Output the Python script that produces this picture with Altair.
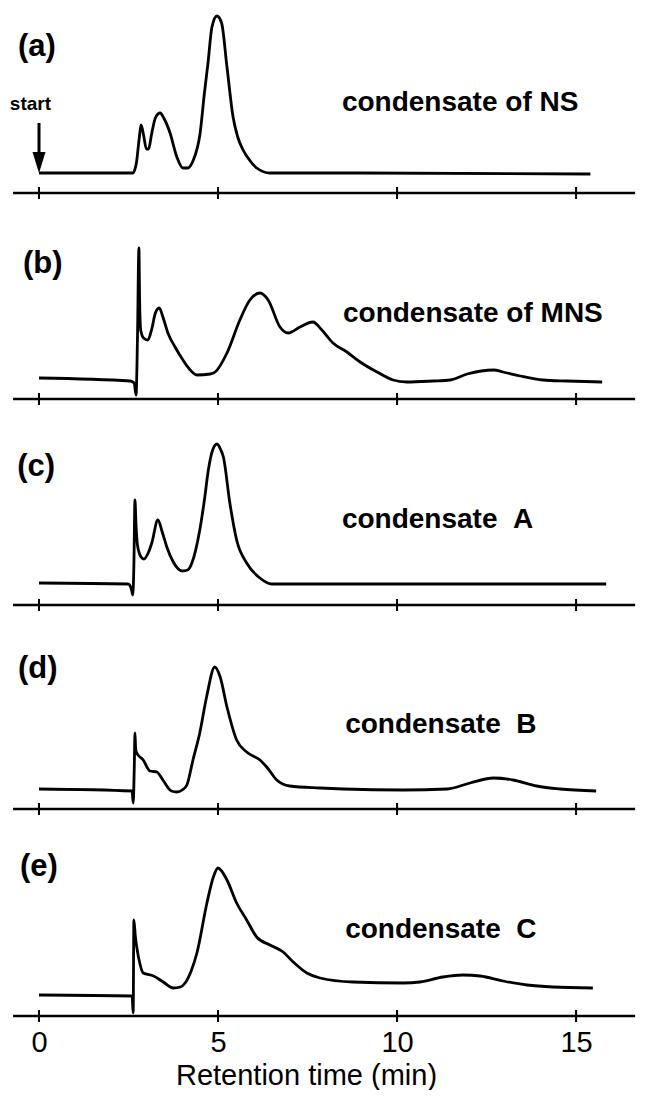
import altair as alt
import pandas as pd

# ---------------- data ----------------
# retention time (min) / detector signal (arbitrary units above the baseline axis)
t_a = [0, 2.62, 2.72, 2.80, 2.85, 2.92, 3.00, 3.06, 3.15, 3.25, 3.38, 3.50, 3.66, 3.85, 4.02,
       4.15, 4.30, 4.50, 4.62, 4.72, 4.83, 4.97, 5.10, 5.25, 5.42, 5.55, 5.70, 5.90, 6.08, 6.45,
       9.0, 15.4]
s_a = [20, 20, 30, 55, 68, 58, 44, 44, 60, 75, 80, 74, 60, 36, 25,
       25, 32, 60, 100, 130, 166, 177, 170, 126, 76, 56, 43, 32, 25, 20,
       20, 19]

t_b = [0, 2.55, 2.66, 2.71, 2.75, 2.79, 2.81, 2.84, 2.92, 3.04, 3.15, 3.25, 3.36, 3.46, 3.60,
       3.80, 4.02, 4.20, 4.41, 4.78, 4.92, 5.25, 5.61, 5.89, 6.17, 6.40, 6.73, 6.96, 7.29, 7.65,
       7.90, 8.21, 8.60, 8.97, 9.44, 9.89, 10.27, 11.0, 11.48, 11.96, 12.7, 12.96, 13.44, 14.08,
       14.75, 15.73]
s_b = [21, 18, 16, 4, 60, 151, 100, 69, 61, 59, 70, 86, 91, 82, 66,
       52, 39, 30, 24, 25, 27, 46, 79, 99, 106, 99, 72, 66, 72, 77,
       69, 56, 47, 37, 27, 19, 17, 18, 19, 25, 29, 27, 23, 19,
       18, 17]

t_c = [0, 2.49, 2.58, 2.62, 2.65, 2.68, 2.71, 2.75, 2.85, 2.93, 3.05, 3.15, 3.32, 3.45, 3.57,
       3.75, 4.00, 4.15, 4.27, 4.49, 4.62, 4.73, 4.85, 4.97, 5.08, 5.15, 5.33, 5.52, 5.80, 6.17,
       6.50, 10.0, 15.84]
s_c = [22, 21, 16, 10, 40, 105, 80, 60, 48, 46, 52, 62, 85, 72, 58,
       43, 34, 35, 42, 75, 105, 135, 155, 161, 155, 148, 102, 65, 42, 27,
       21, 21, 21]

t_d = [0, 2.60, 2.63, 2.66, 2.68, 2.70, 2.73, 2.91, 3.10, 3.29, 3.46, 3.70, 3.85, 4.00, 4.13,
       4.30, 4.49, 4.68, 4.91, 5.06, 5.25, 5.52, 5.80, 6.17, 6.36, 6.64, 7.00, 7.85, 8.5, 10.17,
       11.4, 12.04, 12.7, 13.24, 13.9, 14.55, 15.56]
s_d = [20, 18, 6, 40, 76, 60, 56, 49, 38, 37, 29, 18, 17, 19, 24,
       49, 76, 112, 142, 132, 102, 69, 57, 49, 42, 29, 23, 21, 20, 19,
       20, 26, 31, 29, 23, 20, 18]

t_e = [0, 2.60, 2.63, 2.65, 2.69, 2.73, 2.82, 2.91, 3.20, 3.47, 3.75, 3.95, 4.08, 4.25, 4.41,
       4.69, 4.87, 5.00, 5.10, 5.25, 5.52, 5.80, 6.08, 6.45, 6.82, 7.10, 7.48, 7.85, 8.77, 10.17,
       10.64, 11.28, 11.84, 12.32, 12.96, 13.63, 14.36, 15.47]
s_e = [21, 20, 3, 96, 80, 69, 52, 43, 40, 34, 28, 29, 33, 45, 63,
       113, 139, 148, 145, 136, 113, 96, 79, 71, 64, 54, 43, 38, 34, 33,
       34, 39, 41, 40, 35, 31, 29, 28]

panel_letters = ["(a)", "(b)", "(c)", "(d)", "(e)"]
sample_names = ["condensate of NS", "condensate of MNS", "condensate\u00a0\u00a0A",
                "condensate\u00a0\u00a0B", "condensate\u00a0\u00a0C"]
tick_values = [0, 5, 10, 15]
axis_extent = [-0.726, 16.65]
x_title = "Retention time (min)"

# ---------------- layout / style ----------------
X_DOMAIN = [-0.866, 16.73]
WIDTH = 630
FONT = "Liberation Sans"

# height, y-domain, letter position (t, s), name position (t, s)
panel_layout = [
    (197, [-12, 185], (-0.59, 146), (8.46, 82)),
    (206, [-12, 194], (-0.45, 135), (8.49, 77)),
    (206, [-12, 194], (-0.61, 138), (8.46, 77)),
    (204, [-12, 192], (-0.59, 140), (8.55, 76)),
    (207, [-12, 195], (-0.53, 149), (8.55, 78)),
]

series = [(t_a, s_a), (t_b, s_b), (t_c, s_c), (t_d, s_d), (t_e, s_e)]


def make_panel(i):
    t, s = series[i]
    height, ydom, letter_pos, name_pos = panel_layout[i]
    xs = alt.Scale(domain=X_DOMAIN, nice=False, zero=False)
    ys = alt.Scale(domain=ydom, nice=False, zero=False)
    last = i == len(series) - 1

    if last:
        x_axis = alt.Axis(values=tick_values, domain=False, ticks=False, grid=False,
                          labelFont=FONT, labelFontSize=29, labelColor="black",
                          labelPadding=0, title=x_title, titleFont=FONT,
                          titleFontSize=29, titleFontWeight="normal", titleColor="black",
                          titlePadding=4, titleX=298)
    else:
        x_axis = None

    df = pd.DataFrame({"t": t, "s": s})
    line = alt.Chart(df).mark_line(color="black", strokeWidth=2.8, interpolate="monotone",
                                   strokeJoin="round").encode(
        x=alt.X("t:Q", scale=xs, axis=x_axis, title=x_title),
        y=alt.Y("s:Q", scale=ys, axis=None),
    )

    base_df = pd.DataFrame({"x0": [axis_extent[0]], "x1": [axis_extent[1]], "y": [0]})
    axis_line = alt.Chart(base_df).mark_rule(color="black", strokeWidth=2.5).encode(
        x=alt.X("x0:Q", scale=xs, axis=x_axis, title=x_title),
        x2="x1:Q",
        y=alt.Y("y:Q", scale=ys, axis=None),
    )

    tick_df = pd.DataFrame({"t": tick_values, "y": [0] * len(tick_values)})
    ticks = alt.Chart(tick_df).mark_tick(orient="vertical", size=12, thickness=2,
                                         color="black", opacity=1).encode(
        x=alt.X("t:Q", scale=xs, axis=x_axis, title=x_title),
        y=alt.Y("y:Q", scale=ys, axis=None),
    )

    letter = alt.Chart(pd.DataFrame({"label": [panel_letters[i]]})).mark_text(
        font=FONT, fontSize=31, fontWeight="bold", align="left", baseline="middle",
        color="black").encode(
        x=alt.XDatum(letter_pos[0], scale=xs, axis=x_axis, title=x_title),
        y=alt.YDatum(letter_pos[1], scale=ys, axis=None),
        text="label:N",
    )

    name = alt.Chart(pd.DataFrame({"label": [sample_names[i]]})).mark_text(
        font=FONT, fontSize=28, fontWeight="bold", align="left", baseline="alphabetic",
        color="black").encode(
        x=alt.XDatum(name_pos[0], scale=xs, axis=x_axis, title=x_title),
        y=alt.YDatum(name_pos[1], scale=ys, axis=None),
        text="label:N",
    )

    layers = [line, axis_line, ticks, letter, name]

    if i == 0:
        start_df = pd.DataFrame({"label": ["start"]})
        start_txt = alt.Chart(start_df).mark_text(
            font=FONT, fontSize=19, fontWeight="bold", align="center",
            baseline="middle", color="black").encode(
            x=alt.XDatum(-0.24, scale=xs, axis=None),
            y=alt.YDatum(89.5, scale=ys, axis=None),
            text="label:N",
        )
        shaft = alt.Chart(start_df).mark_rule(color="black", strokeWidth=3).encode(
            x=alt.XDatum(0, scale=xs, axis=None),
            y=alt.YDatum(70, scale=ys, axis=None),
            y2=alt.Y2Datum(38),
        )
        head = alt.Chart(start_df).mark_point(
            shape="M-0.62,-1L0.62,-1L0,1Z", size=441, filled=True, color="black",
            opacity=1, strokeWidth=0).encode(
            x=alt.XDatum(0, scale=xs, axis=None),
            y=alt.YDatum(30.5, scale=ys, axis=None),
        )
        layers += [start_txt, shaft, head]

    return alt.layer(*layers).properties(width=WIDTH, height=height)


chart = alt.vconcat(*[make_panel(i) for i in range(5)], spacing=0).properties(
    padding={"left": 0, "top": 0, "right": 0, "bottom": 0}
).configure_view(stroke=None, strokeWidth=0)

chart.save("out.html", embed_options={"renderer": "svg", "actions": False})
